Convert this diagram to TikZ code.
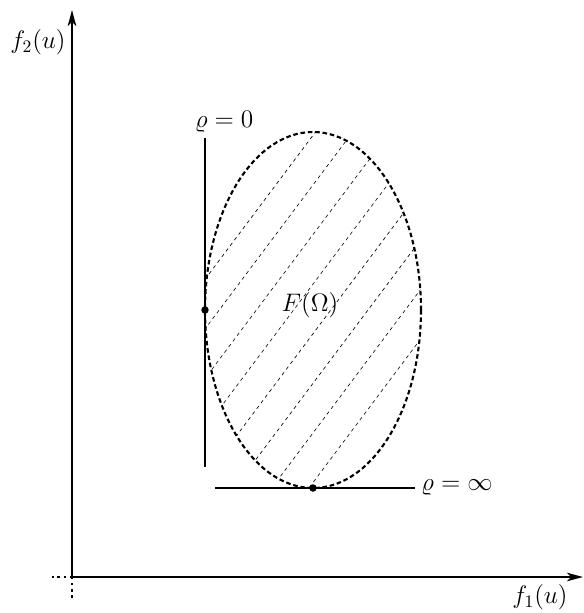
\documentclass[tikz,border=0pt]{standalone}
\usepackage{amsmath,amssymb}
\usepackage{tikz}
\usetikzlibrary{arrows.meta,positioning,calc}
\tikzset{
  axisline/.style={line width=1pt,-{Stealth[length=3.2mm,width=1.7mm,inset=0.8mm]}},
  axisdots/.style={line width=1pt,dash pattern=on 1.3pt off 2.2pt},
  bound/.style={line width=1.2pt,dash pattern=on 2.6pt off 1.6pt},
  hatch/.style={line width=0.35pt,dash pattern=on 2pt off 2pt},
  tangent/.style={line width=0.7pt},
  point/.style={circle,fill,inner sep=0pt,minimum size=1.5mm}
}
\begin{document}
\begin{tikzpicture}[x=0.02cm,y=-0.02cm, every node/.style={font=\fontsize{13.8}{16}\selectfont}]
\useasboundingbox (0,0) rectangle (584,613);
% axes
\coordinate (origin) at (72,577);
\coordinate (ytop) at (72,10);
\coordinate (ybot) at (72,600);
\coordinate (xright) at (583,577);
\coordinate (xleft) at (52,577);
\draw[axisline] (origin) -- (ytop);
\draw[axisline] (origin) -- (xright);
\draw[axisdots] (origin) -- (ybot);
\draw[axisdots] (origin) -- (xleft);
\node (fy) at (38,42) {$f_2(u)$};
\node (fx) at (540,597) {$f_1(u)$};
% image set, hatched
\coordinate (ctr) at (313,310);
\begin{scope}
  \clip (ctr) ellipse [x radius=108, y radius=178];
  \foreach \k in {0,...,7}
    \draw[hatch] ($(182+37.2*\k,310)+(-150,200)$) -- ($(182+37.2*\k,310)+(150,-200)$);
\end{scope}
\draw[bound] (ctr) ellipse [x radius=108, y radius=178];
\node (fom) at (310,305) {$F(\Omega)$};
% supporting lines
\coordinate (vtop) at (205,138);
\coordinate (vbot) at (205,467);
\coordinate (hleft) at (215,488);
\coordinate (hright) at (415,488);
\draw[tangent] (vtop) -- (vbot);
\draw[tangent] (hleft) -- (hright);
\node[point] (pzero) at (205,310) {};
\node[point] (pinf) at (313,488) {};
\node (rzero) at (224,122) {$\varrho=0$};
\node[right=0mm of hright] (rinf) {$\varrho=\infty$};
\end{tikzpicture}
\end{document}
